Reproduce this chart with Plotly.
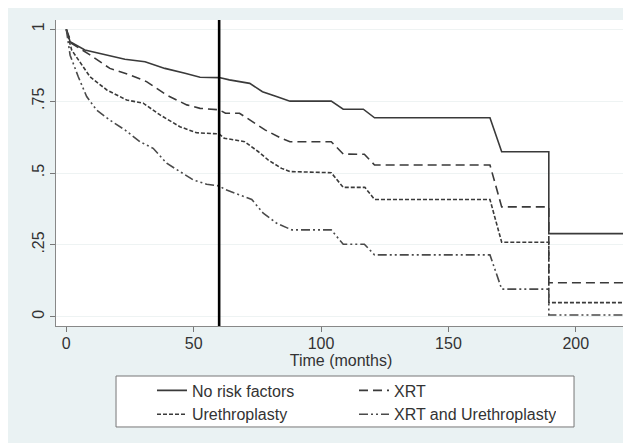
import plotly.graph_objects as go

# ---- data ----
time_none = [0, 1.5, 7.3, 15.2, 23, 30.9, 38.7, 46.6, 52.5, 60, 64, 72, 77, 82.5, 87.8,
             104, 108.7, 116.6, 121, 166.3, 170.9, 189.4, 189.4, 219]
surv_none = [1, .957, .928, .911, .896, .887, .864, .847, .833, .832, .824, .812, .783, .766, .75,
             .75, .722, .722, .692, .692, .574, .574, .289, .289]

time_xrt = [0, 2.1, 9.3, 17.1, 25, 31.5, 39.4, 47.3, 52.5, 60, 62.5, 68, 78, 84.5, 87.8,
            104, 108.7, 117, 121, 166.3, 170.9, 189.4, 189.4, 219]
surv_xrt = [1, .951, .911, .864, .841, .818, .771, .737, .725, .72, .708, .708, .65, .62, .609,
            .609, .566, .565, .528, .528, .382, .382, .118, .118]

time_ureth = [0, 2.1, 9.3, 15.9, 23.7, 30.2, 36.8, 44.6, 51.2, 60, 62, 70, 75.4, 79.3, 84.5, 87.8,
              104, 108.7, 117.2, 121, 166.3, 170.9, 189.4, 189.4, 219]
surv_ureth = [1, .928, .835, .789, .754, .743, .702, .661, .640, .636, .621, .609, .574, .545, .516, .505,
              .501, .450, .450, .408, .408, .259, .259, .049, .049]

time_both = [0, 1.5, 4.7, 8, 11.9, 17.1, 23, 28.9, 34.1, 39.4, 44.6, 49.8, 55.1, 60, 62.3, 66.2,
             72.8, 77.3, 82.6, 88.5, 104, 108.7, 117, 121, 166.3, 170.9, 189.4, 189.4, 219]
surv_both = [1, .91, .835, .766, .719, .684, .65, .609, .586, .534, .505, .476, .461, .455, .443, .429,
             .408, .36, .325, .302, .302, .252, .252, .215, .215, .096, .096, .006, .006]

series_names = ["No risk factors", "XRT", "Urethroplasty", "XRT and Urethroplasty"]
x_ticks = [0, 50, 100, 150, 200]
y_ticks = [0, 0.25, 0.5, 0.75, 1]
y_tick_labels = ["0", ".25", ".5", ".75", "1"]
marker_month = 60

FONT = "Liberation Sans, Arial, sans-serif"
TXT = "#333333"

fig = go.Figure()
styles = [
    dict(color="#3a3a3a", width=1.6, dash="solid"),
    dict(color="#3a3a3a", width=1.6, dash="9px,5px"),
    dict(color="#3a3a3a", width=1.6, dash="4px,2px"),
    dict(color="#4a4a4a", width=1.6, dash="9px,3px,2px,3px,2px,3px"),
]
data = [(time_none, surv_none), (time_xrt, surv_xrt), (time_ureth, surv_ureth), (time_both, surv_both)]
for name, (t, s), st in zip(series_names, data, styles):
    fig.add_trace(go.Scatter(x=t, y=s, mode="lines", name=name, line=st, hoverinfo="skip"))

fig.add_shape(type="line", xref="x", yref="paper", x0=marker_month, x1=marker_month, y0=0, y1=1,
              line=dict(color="black", width=2.6))

# legend frame
fig.add_shape(type="rect", xref="paper", yref="paper", x0=0.1053, x1=0.9088, y0=-0.330, y1=-0.1634,
              fillcolor="white", line=dict(color="#777777", width=1), layer="above")

fig.update_layout(
    width=631, height=443,
    margin=dict(l=48, r=13, t=12, b=125, autoexpand=False),
    paper_bgcolor="#eaf2f3",
    plot_bgcolor="white",
    font=dict(family=FONT, size=16, color=TXT),
    showlegend=True,
    legend=dict(
        orientation="h", x=0.1684, xanchor="left", y=-0.1552, yanchor="top",
        bgcolor="rgba(0,0,0,0)", borderwidth=0,
        entrywidth=157, entrywidthmode="pixels",
        font=dict(family=FONT, size=16, color=TXT),
        traceorder="normal", tracegroupgap=0,
    ),
)
fig.update_xaxes(
    range=[-4.04, 219.7], tickvals=x_ticks, ticks="outside", ticklen=5, tickcolor="#777777",
    showline=True, linecolor="#888888", linewidth=1, showgrid=False, zeroline=False,
    title=dict(text="Time (months)", standoff=1, font=dict(size=16)),
    tickfont=dict(size=16), automargin=False, ticklabelstandoff=-2,
)
fig.update_yaxes(
    range=[-0.0324, 1.0324], tickvals=y_ticks, ticktext=y_tick_labels, ticks="outside", ticklen=5,
    tickcolor="#777777", tickangle=-90,
    showline=True, linecolor="#888888", linewidth=1, showgrid=True, gridcolor="#eef3f3", gridwidth=1,
    zeroline=False, tickfont=dict(size=16), automargin=False,
)

fig.write_html("out.html")
